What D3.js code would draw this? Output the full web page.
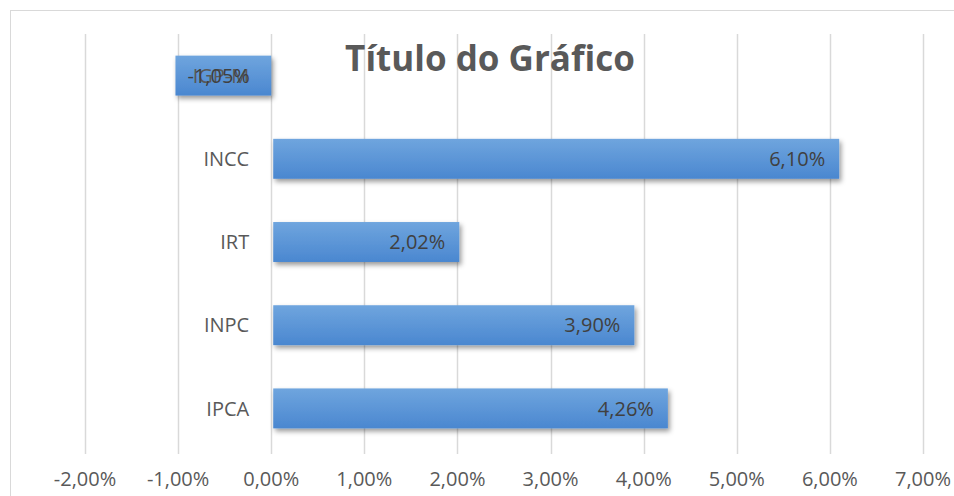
<!DOCTYPE html>
<head>
    <meta charset="utf-8">
    <title>Título do Gráfico</title>
    <style>
        body { margin: 0; background: #fff; }
        text { font-family: "Open Sans", "Liberation Sans", sans-serif; }
    </style>
</head>
<body>
    <svg width="954" height="496"></svg>
    <script src="https://d3js.org/d3.v7.min.js"></script>
    <script>

        var categories = ["IPCA", "INPC", "IRT", "INCC", "IGP-M"];
        var values = [4.26, 3.90, 2.02, 6.10, -1.05];
        var tickValues = [-2, -1, 0, 1, 2, 3, 4, 5, 6, 7];

        var svg = d3.select("svg"),
            margin = { top: 34, right: 31, bottom: 46, left: 85 },
            width = +svg.attr("width") - margin.left - margin.right,
            height = +svg.attr("height") - margin.top - margin.bottom;

        var fmt = function (v) { return v.toFixed(2).replace(".", ",") + "%"; };

        var data = categories.map(function (c, i) { return { name: c, value: values[i] }; });

        var defs = svg.append("defs");
        var grad = defs.append("linearGradient")
            .attr("id", "barGrad")
            .attr("x1", 0).attr("y1", 0).attr("x2", 0).attr("y2", 1);
        grad.append("stop").attr("offset", "0%").attr("stop-color", "#6fa5de");
        grad.append("stop").attr("offset", "100%").attr("stop-color", "#4a87d0");

        var shadow = defs.append("filter").attr("id", "shadow")
            .attr("x", "-10%").attr("y", "-20%").attr("width", "130%").attr("height", "160%");
        shadow.append("feDropShadow")
            .attr("dx", 2).attr("dy", 3).attr("stdDeviation", 2.4)
            .attr("flood-color", "#000").attr("flood-opacity", 0.4);

        // chart border
        svg.append("rect")
            .attr("x", 10.5).attr("y", 10.5)
            .attr("width", 960).attr("height", 500)
            .attr("fill", "none").attr("stroke", "#d9d9d9");

        var x = d3.scaleLinear().domain([-2, 7]).range([0, width]);
        var y = d3.scaleBand().domain(categories.slice().reverse()).range([0, height]).paddingInner(0.52).paddingOuter(0.26);

        var g = svg.append("g")
            .attr("transform", "translate(" + margin.left + "," + margin.top + ")");

        // gridlines
        g.append("g")
            .selectAll("line")
            .data(tickValues)
            .enter().append("line")
            .attr("x1", function (d) { return Math.round(x(d)) + 0.5; })
            .attr("x2", function (d) { return Math.round(x(d)) + 0.5; })
            .attr("y1", 0)
            .attr("y2", height + 4)
            .attr("stroke", "#d9d9d9")
            .attr("stroke-width", 1.5);

        // tick labels
        g.append("g")
            .selectAll("text")
            .data(tickValues)
            .enter().append("text")
            .attr("x", function (d) { return x(d); })
            .attr("y", height + 36)
            .attr("text-anchor", "middle")
            .style("font-size", "20px")
            .style("fill", "#595959")
            .text(fmt);

        // bars
        g.append("g")
            .selectAll("rect")
            .data(data)
            .enter().append("rect")
            .attr("x", function (d) { return x(Math.min(0, d.value)) + 2; })
            .attr("y", function (d) { return y(d.name); })
            .attr("width", function (d) { return Math.abs(x(d.value) - x(0)) - 2; })
            .attr("height", y.bandwidth())
            .attr("fill", "url(#barGrad)")
            .attr("filter", "url(#shadow)");

        // category labels
        g.append("g")
            .selectAll("text")
            .data(data)
            .enter().append("text")
            .attr("x", x(0) - 22)
            .attr("y", function (d) { return y(d.name) + y.bandwidth() / 2; })
            .attr("dy", "0.36em")
            .attr("text-anchor", "end")
            .style("font-size", "20px")
            .style("fill", "#595959")
            .text(function (d) { return d.name; });

        // value labels (inside end)
        g.append("g")
            .selectAll("text")
            .data(data)
            .enter().append("text")
            .attr("x", function (d) { return d.value >= 0 ? x(d.value) - 14 : x(d.value) + 14; })
            .attr("y", function (d) { return y(d.name) + y.bandwidth() / 2; })
            .attr("dy", "0.36em")
            .attr("text-anchor", function (d) { return d.value >= 0 ? "end" : "start"; })
            .style("font-size", "20px")
            .style("fill", "#404040")
            .text(function (d) { return fmt(d.value); });

        // title
        svg.append("text")
            .attr("x", 490)
            .attr("y", 71)
            .attr("text-anchor", "middle")
            .style("font-size", "35px")
            .style("font-weight", "bold")
            .style("fill", "#595959")
            .text("Título do Gráfico");

    </script>
</body>
